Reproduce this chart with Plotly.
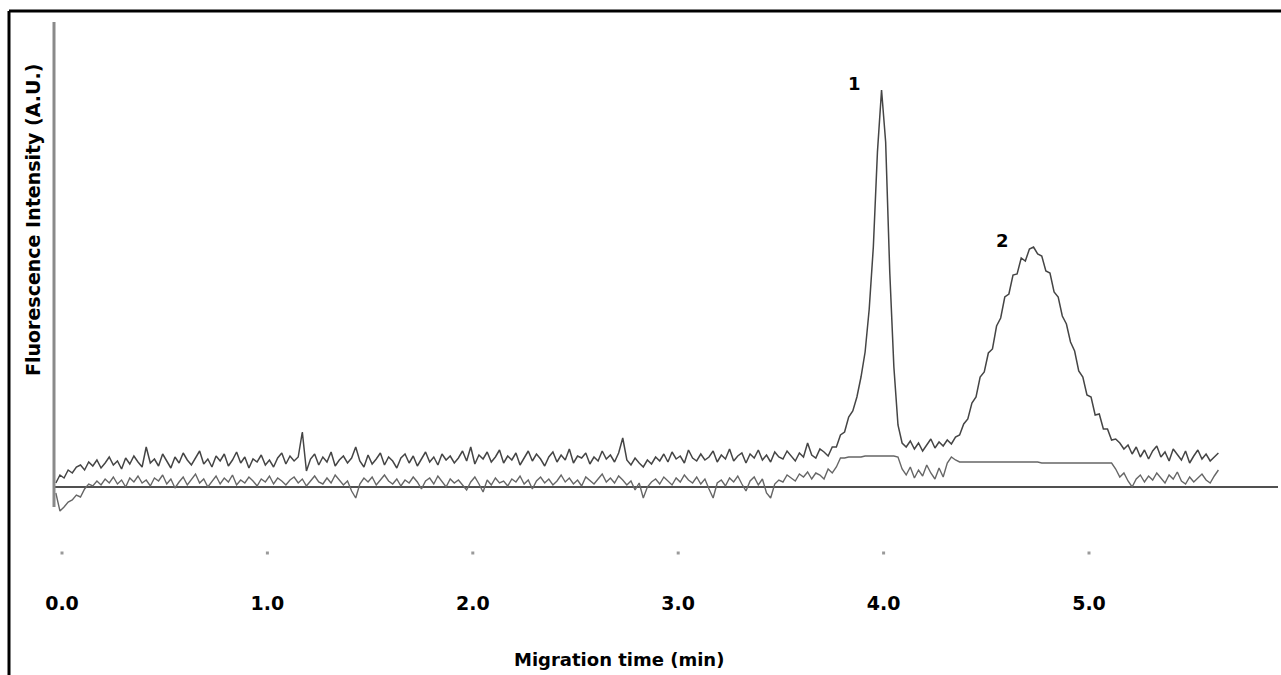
import numpy as np
import plotly.graph_objects as go

# ---------------- data ----------------
start_time = -0.03          # min, first sample
sample_interval = 0.02      # min between samples

# upper (sample) trace, fluorescence in A.U. (baseline = 0)
sample_trace = [
    4, 12, 9, 17, 14, 20, 22, 17, 25, 21,
    27, 19, 24, 30, 22, 26, 18, 29, 23, 31,
    25, 20, 40, 24, 28, 21, 33, 26, 19, 30,
    24, 34, 27, 22, 29, 36, 23, 28, 20, 31,
    26, 33, 21, 27, 35, 24, 30, 19, 28, 25,
    32, 22, 27, 20, 29, 34, 23, 31, 26, 30,
    55, 16, 28, 33, 22, 30, 25, 35, 21, 27,
    31, 24, 29, 40, 26, 20, 32, 23, 28, 34,
    22, 30, 26, 19, 29, 33, 24, 31, 21, 28,
    35, 25, 30, 22, 33, 27, 31, 24, 29, 36,
    26, 40, 23, 32, 28, 35, 25, 30, 37, 24,
    31, 27, 34, 22, 29, 36, 26, 33, 28, 21,
    30, 35, 25, 32, 27, 38, 24, 31, 29, 34,
    23, 30, 26, 36, 28, 32, 25, 34, 49, 27,
    22, 29, 24, 20, 27, 23, 30, 26, 33, 25,
    35, 28, 31, 24, 37, 29, 26, 33, 27, 30,
    36, 25, 32, 28, 38, 26, 31, 34, 24, 33,
    29, 37, 27, 32, 25, 35, 30, 28, 36, 31,
    26, 34, 30, 44, 32, 29, 38, 35, 31, 40,
    # peak 1
    40, 52, 55, 70, 76, 90, 110, 135, 178, 240, 335, 397, 345, 215, 120, 62, 44,
    # between peaks
    40, 46, 38, 44, 36, 42, 48, 39, 45, 41, 47, 43, 50,
    # peak 2
    52, 63, 68, 84, 90, 110, 115, 134, 138, 161, 169, 190, 193, 212, 213, 229,
    226, 238, 240, 233, 231, 216, 214, 195, 190, 171, 163, 145, 136, 116, 110,
    92, 90, 72, 73, 58, 58, 47, 48,
    # tail
    44, 38, 42, 33, 40, 30, 37, 28, 36, 41, 30, 35, 26, 38, 32, 27, 36, 24,
    31, 37, 28, 33, 26, 30, 34,
]

# lower (blank) trace
blank_trace = [
    -6, -24, -20, -15, -13, -8, -10, -2, 3, 1,
    6, 2, 8, 4, 10, 3, 7, 0, 9, 5,
    11, 4, 7, 1, 9, 6, 12, 3, 8, -1,
    5, 10, 2, 7, 13, 4, 8, 0, 6, 11,
    3, 9, 5, 12, 2, 7, 4, 10, 6, 1,
    8, 5, 11, 3, 9, 6, 2, 7, 10, 4,
    8, 1, 6, 11, 5, 3, 9, 4, 12, 7,
    2, 6, -4, -11, 3, 9, 5, 10, 2, 7,
    12, 6, 3, 8, 1, 7, 4, 10, 5, -2,
    6, 9, 3, 11, 5, 0, 8, 4, 7, 2,
    -3, 5, 10, 3, -5, 7, 2, 9, 4, 6,
    1, 8, 5, 11, 3, 7, -2, 6, 10, 4,
    8, 2, 6, 12, 5, 9, 3, 7, 1, 10,
    6, 3, 8, 13, 5, 9, 4, 11, 7, 2,
    6, -3, 4, -11, 0, 5, 8, 3, 10, 6,
    2, 9, 5, 12, 7, 4, 10, 3, 8, -2,
    -11, 4, 7, 1, 9, 5, 11, 3, -4, 6,
    10, 2, 8, -6, -11, 3, 7, 5, 12, 9,
    6, 13, 10, 15, 8, 14, 12, 8, 18, 14,
    20,
    29, 29, 30, 30, 30, 30, 31, 31, 31, 31, 31, 31, 31, 31, 30,
    18,
    12, 20, 9, 17, 11, 22, 14, 8, 19, 10,
    24, 30, 27,
    25, 25, 25, 25, 25, 25, 25, 25, 25, 25, 25, 25, 25, 25, 25, 25, 25, 25, 25,
    25, 24, 24, 24, 24, 24, 24, 24, 24, 24, 24, 24, 24, 24, 24, 24, 24, 24, 24,
    18, 10, 14, 6, 0, 8, 12, 5, 11, 7, 14, 9, 4, 12, 8, 15, 6, 3, 10, 5,
    9, 13, 7, 4, 11, 17,
]

tick_values = [0, 1, 2, 3, 4, 5]
tick_labels = ["0.0", "1.0", "2.0", "3.0", "4.0", "5.0"]

peak_names = ["1", "2"]
peak_label_times = [3.86, 4.58]
peak_label_heights = [404, 247]

x_title = "Migration time (min)"
y_title = "Fluorescence Intensity (A.U.)"

# ---------------- figure ----------------
times = start_time + sample_interval * np.arange(len(sample_trace))
times_blank = start_time + sample_interval * np.arange(len(blank_trace))

FONT = "DejaVu Sans"
fig = go.Figure()

fig.add_trace(go.Scatter(x=times_blank, y=blank_trace, mode="lines",
                         line=dict(color="#666666", width=1.4),
                         showlegend=False, hoverinfo="skip"))
fig.add_trace(go.Scatter(x=times, y=sample_trace, mode="lines",
                         line=dict(color="#454545", width=1.5),
                         showlegend=False, hoverinfo="skip"))

# small tick dots below the baseline
fig.add_trace(go.Scatter(x=tick_values, y=[-66] * len(tick_values), mode="markers",
                         marker=dict(symbol="square", size=3, color="#9a9a9a"),
                         showlegend=False, hoverinfo="skip"))

for name, t, h in zip(peak_names, peak_label_times, peak_label_heights):
    fig.add_annotation(x=t, y=h, xref="x", yref="y", text=name, showarrow=False,
                       font=dict(family=FONT, size=18, color="black", weight="bold"),
                       xanchor="center", yanchor="middle")

fig.add_annotation(x=(619 - 54) / 1224, y=(590 - 659) / 570, xref="paper", yref="paper",
                   text=x_title, showarrow=False, xanchor="center", yanchor="middle",
                   font=dict(family=FONT, size=18, color="black", weight="bold"))
fig.add_annotation(x=(33 - 54) / 1224, y=(590 - 220) / 570, xref="paper", yref="paper",
                   text=y_title, showarrow=False, textangle=-90,
                   xanchor="center", yanchor="middle",
                   font=dict(family=FONT, size=19, color="black", weight="bold"))

# y-axis line (partial height) and outer frame
fig.add_shape(type="line", xref="paper", yref="y", x0=0, x1=0, y0=-20, y1=465,
              line=dict(color="#8a8a8a", width=3))
fig.add_shape(type="line", xref="paper", yref="paper",
              x0=(9 - 54) / 1224, x1=(1281 - 54) / 1224,
              y0=(590 - 11) / 570, y1=(590 - 11) / 570,
              line=dict(color="black", width=3))
fig.add_shape(type="line", xref="paper", yref="paper",
              x0=(9 - 54) / 1224, x1=(9 - 54) / 1224,
              y0=(590 - 11) / 570, y1=(590 - 680) / 570,
              line=dict(color="black", width=3))

fig.update_layout(
    width=1281, height=675,
    margin=dict(l=54, r=3, t=20, b=85),
    paper_bgcolor="white", plot_bgcolor="white",
    xaxis=dict(range=[(54 - 62) / 205.4, (1278 - 62) / 205.4],
               tickvals=tick_values, ticktext=tick_labels,
               showgrid=False, zeroline=False, showline=False, ticks="",
               tickfont=dict(family=FONT, size=19, color="black", weight="bold")),
    yaxis=dict(range=[487 - 590, 487 - 20], showgrid=False,
               zeroline=True, zerolinecolor="#505050", zerolinewidth=1.5,
               showline=False, showticklabels=False, ticks=""),
)

fig.write_html("out.html", config={"displayModeBar": False},
               post_script="document.body.style.margin='0';document.body.style.overflow='hidden';")
